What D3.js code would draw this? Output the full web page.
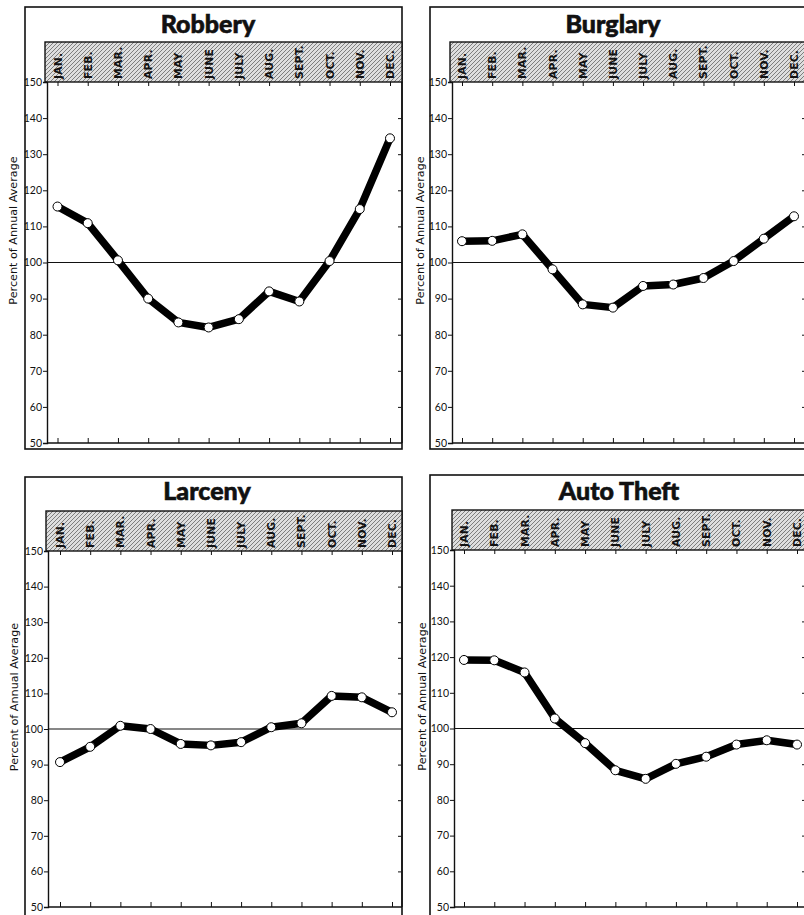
<!DOCTYPE html>
<html>
<head>
<meta charset="utf-8">
<script src="https://cdn.jsdelivr.net/npm/d3@7"></script>
<style>
  html, body { margin: 0; padding: 0; background: #fff; }
  svg { display: block; }
</style>
</head>
<body>
<svg id="chart" width="804" height="915"></svg>
<script>
// ---- Data ----
const months = ["JAN.", "FEB.", "MAR.", "APR.", "MAY", "JUNE", "JULY", "AUG.", "SEPT.", "OCT.", "NOV.", "DEC."];
const yTickValues = [50, 60, 70, 80, 90, 100, 110, 120, 130, 140, 150];
const titles = ["Robbery", "Burglary", "Larceny", "Auto Theft"];
const robbery   = [115.5, 110.9, 100.6, 90.0, 83.4, 82.0, 84.3, 92.0, 89.2, 100.4, 114.8, 134.4];
const burglary  = [105.9, 106.0, 107.8, 98.1, 88.4, 87.5, 93.5, 93.9, 95.7, 100.4, 106.6, 112.8];
const larceny   = [90.7, 95.0, 100.9, 100.0, 95.8, 95.4, 96.3, 100.5, 101.6, 109.3, 108.9, 104.7];
const autoTheft = [119.2, 119.1, 115.7, 102.8, 95.9, 88.3, 85.9, 90.1, 92.1, 95.5, 96.7, 95.5];
const seriesList = [robbery, burglary, larceny, autoTheft];
const referenceValue = 100;

// ---- Layout (panel frames) ----
const layout = [
  { box: [25, 7, 402, 449],  plot: [47, 82, 402, 443],  x: [57.5, 390], titleX: 208, titleY: 33,  axisTitleX: 17 },
  { box: [430, 7, 808, 449], plot: [452, 82, 806, 443], x: [462, 794],  titleX: 613, titleY: 33,  axisTitleX: 424 },
  { box: [25, 477, 402, 925], plot: [48, 551, 402, 907], x: [60, 392],  titleX: 207, titleY: 500, axisTitleX: 18 },
  { box: [430, 475, 808, 925], plot: [454, 550, 806, 907], x: [464, 797], titleX: 619, titleY: 500, axisTitleX: 426 }
];

const svg = d3.select("#chart");
const defs = svg.append("defs");
const pat = defs.append("pattern")
  .attr("id", "hatch").attr("patternUnits", "userSpaceOnUse")
  .attr("width", 4).attr("height", 4);
pat.append("rect").attr("width", 4).attr("height", 4).attr("fill", "#dedede");
pat.append("path").attr("d", "M-1,1 L1,-1 M0,4 L4,0 M3,5 L5,3")
  .attr("stroke", "#666").attr("stroke-width", 0.8);

const numFont = "Lato, 'DejaVu Sans', sans-serif";

layout.forEach((L, i) => {
  const g = svg.append("g");
  const [bx0, by0, bx1, by1] = L.box;
  const [px0, pyTop, px1, pyBot] = L.plot;
  const bandTop = pyTop - 40;

  const x = d3.scalePoint().domain(months).range(L.x);
  const y = d3.scaleLinear().domain([50, 150]).range([pyBot, pyTop]);

  // outer frame
  g.append("rect").attr("x", bx0).attr("y", by0)
    .attr("width", bx1 - bx0).attr("height", by1 - by0)
    .attr("fill", "none").attr("stroke", "#111").attr("stroke-width", 1.6);

  // title
  g.append("text").attr("x", L.titleX).attr("y", L.titleY)
    .attr("text-anchor", "middle")
    .attr("font-family", "Lato, 'DejaVu Sans', sans-serif")
    .attr("font-weight", 900).attr("font-size", 25)
    .attr("stroke", "#111").attr("stroke-width", 0.6)
    .attr("fill", "#111").text(titles[i]);

  // hatched month band
  g.append("rect").attr("x", px0 - 2).attr("y", bandTop)
    .attr("width", px1 - px0 + 2).attr("height", pyTop - bandTop)
    .attr("fill", "url(#hatch)").attr("stroke", "#111").attr("stroke-width", 1.4);

  g.selectAll("text.month").data(months).join("text")
    .attr("class", "month")
    .attr("transform", d => `translate(${x(d) + 4},${pyTop - 3}) rotate(-90)`)
    .attr("font-family", "'DejaVu Sans', sans-serif")
    .attr("font-weight", "bold").attr("font-size", 10.8)
    .attr("letter-spacing", 0.2)
    .attr("fill", "#111").text(d => d);

  // left axis
  const yAxis = d3.axisLeft(y).tickValues(yTickValues).tickSize(4).tickPadding(1);
  const ya = g.append("g").attr("transform", `translate(${px0},0)`).call(yAxis);
  ya.select(".domain").attr("stroke", "#111").attr("stroke-width", 1.4);
  ya.selectAll(".tick line").attr("stroke", "#111").attr("stroke-width", 1);
  ya.selectAll(".tick text").attr("font-family", numFont).attr("font-size", 10.5)
    .attr("fill", "#111");

  // right inner ticks
  const yAxisR = d3.axisLeft(y).tickValues(yTickValues.filter(v => v > 50 && v < 150 && v !== referenceValue))
    .tickSize(4).tickFormat("");
  const yr = g.append("g").attr("transform", `translate(${px1},0)`).call(yAxisR);
  yr.select(".domain").remove();
  yr.selectAll(".tick line").attr("stroke", "#111").attr("stroke-width", 1)
    .attr("x1", -1).attr("x2", -4);

  // bottom axis with upward ticks
  const xAxisB = d3.axisTop(x).tickSize(5).tickFormat("");
  const xb = g.append("g").attr("transform", `translate(0,${pyBot})`).call(xAxisB);
  xb.select(".domain").attr("d", `M${px0},0H${px1}`).attr("stroke", "#111").attr("stroke-width", 1.4);
  xb.selectAll(".tick line").attr("stroke", "#111").attr("stroke-width", 1);

  // top ticks below the band
  const xAxisT = d3.axisBottom(x).tickSize(4).tickFormat("");
  const xt = g.append("g").attr("transform", `translate(0,${pyTop})`).call(xAxisT);
  xt.select(".domain").remove();
  xt.selectAll(".tick line").attr("stroke", "#111").attr("stroke-width", 1);

  // right plot edge
  g.append("line").attr("x1", px1).attr("x2", px1).attr("y1", pyTop).attr("y2", pyBot)
    .attr("stroke", "#111").attr("stroke-width", 1.4);

  // reference line at 100
  g.append("line").attr("x1", px0).attr("x2", px1)
    .attr("y1", y(referenceValue)).attr("y2", y(referenceValue))
    .attr("stroke", "#111").attr("stroke-width", 1.1);

  // axis title
  const midY = (pyTop + pyBot) / 2 - 32;
  g.append("text")
    .attr("transform", `translate(${L.axisTitleX},${midY}) rotate(-90)`)
    .attr("text-anchor", "middle")
    .attr("font-family", "'DejaVu Sans', sans-serif")
    .attr("font-size", 11.2).attr("fill", "#111")
    .text("Percent of Annual Average");

  // series line
  const data = seriesList[i].map((v, k) => ({ m: months[k], v }));
  const line = d3.line().x(d => x(d.m)).y(d => y(d.v));
  g.append("path").datum(data).attr("d", line)
    .attr("fill", "none").attr("stroke", "#000").attr("stroke-width", 7.5)
    .attr("stroke-linejoin", "round").attr("stroke-linecap", "butt");

  g.selectAll("circle.pt").data(data).join("circle")
    .attr("class", "pt")
    .attr("cx", d => x(d.m)).attr("cy", d => y(d.v)).attr("r", 4.5)
    .attr("fill", "#fff").attr("stroke", "#000").attr("stroke-width", 1);
});
</script>
</body>
</html>
